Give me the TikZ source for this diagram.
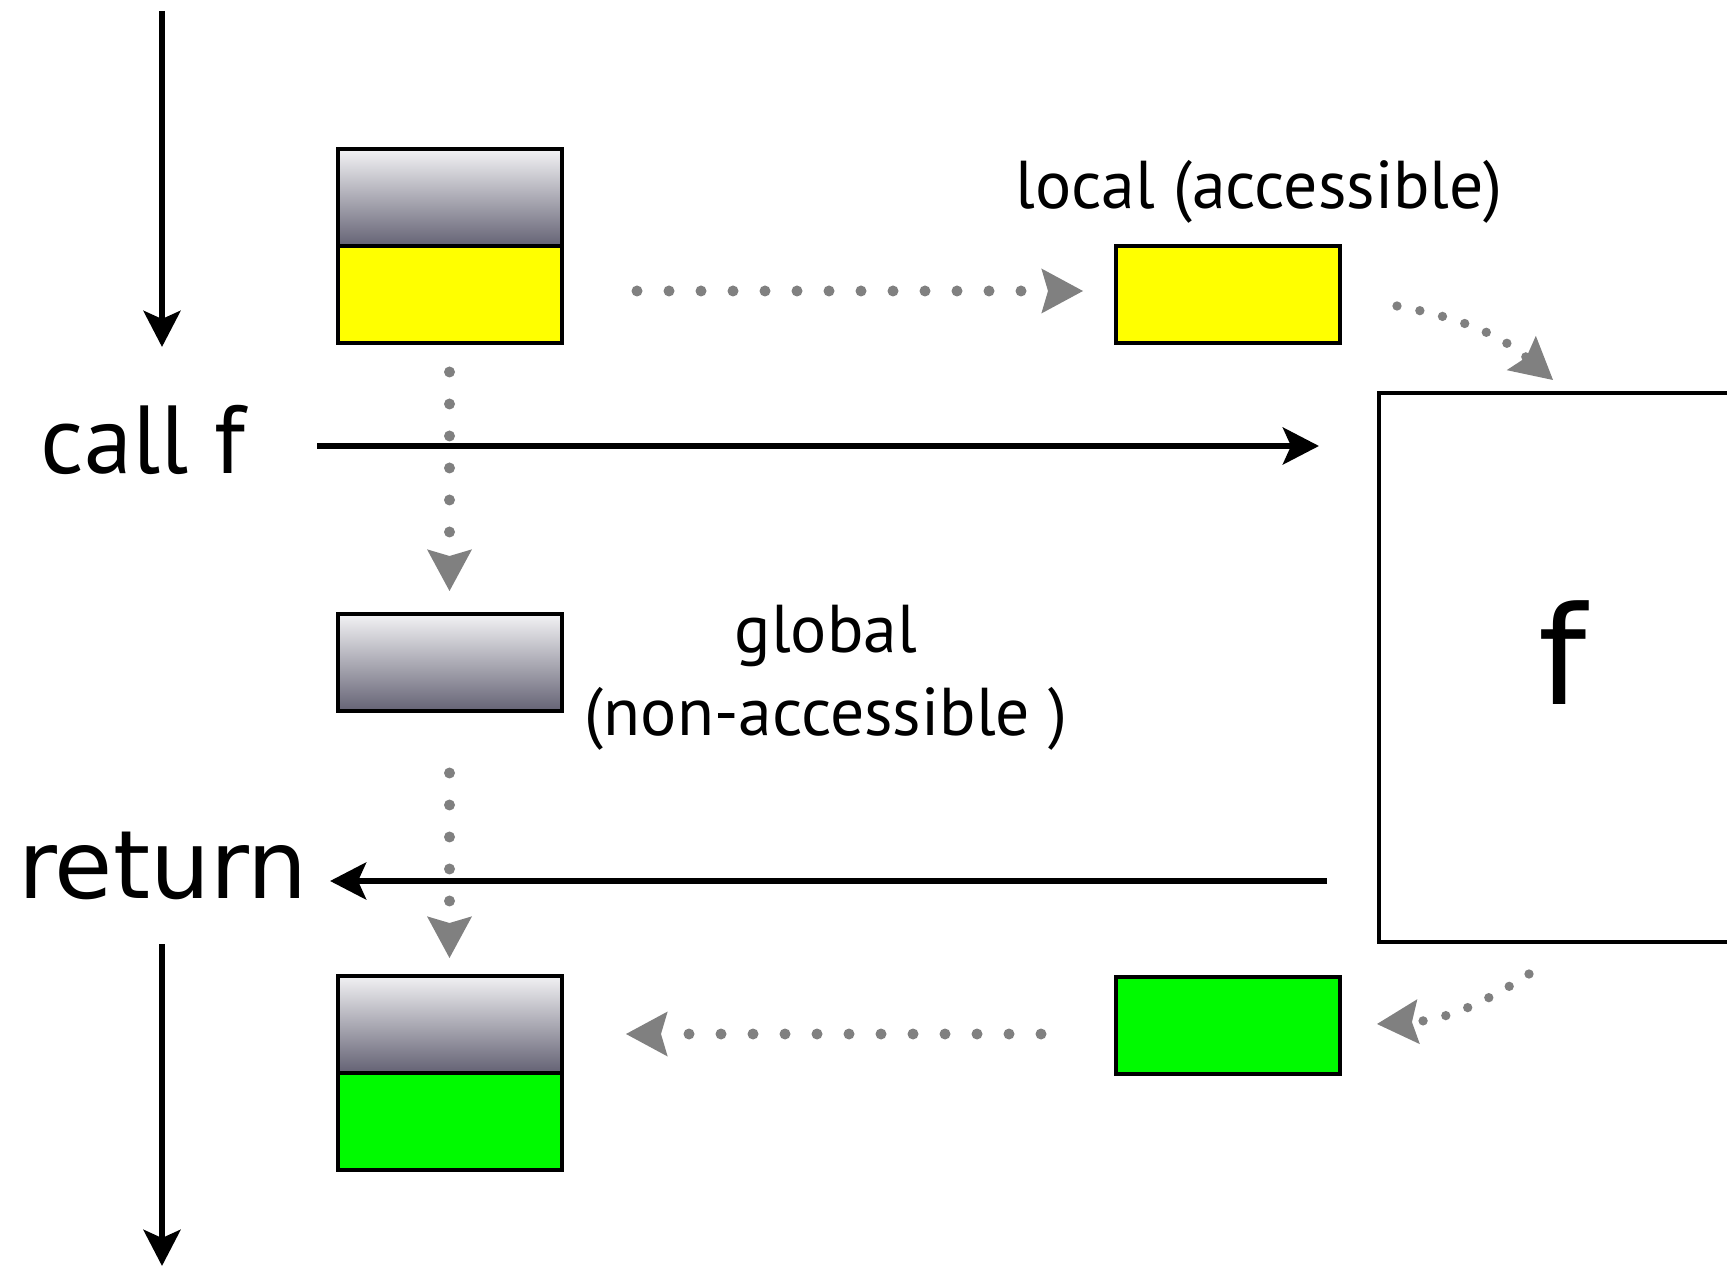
\documentclass[tikz,border=0pt]{standalone}
\usepackage{fontspec}
\setmainfont{PT Sans}
\newfontfamily\dejavu{DejaVu Sans}
\usetikzlibrary{arrows.meta,calc}
\definecolor{yel}{RGB}{255,255,0}
\definecolor{grn}{RGB}{0,250,0}
\definecolor{gtop}{RGB}{242,242,244}
\definecolor{gbot}{RGB}{100,98,116}
\definecolor{dotgray}{RGB}{128,128,128}
\begin{document}
\begin{tikzpicture}[x=0.3pt,y=-0.3pt,
  blk/.style={line width=2pt,-{Stealth[length=10.8pt,width=11pt,inset=2.4pt]}},
  dotarr/.style={draw=dotgray,line width=3.3pt,line cap=round,dash pattern=on 0pt off 9.6pt,-{Stealth[length=12.5pt,width=13.5pt,inset=2pt,fill=dotgray,line width=0pt]}},
  curvarr/.style={dotarr,line width=2.8pt,dash pattern=on 0pt off 7pt},
  cell/.style={draw=black,line width=1.2pt,minimum width=67.2pt,minimum height=29.1pt,inner sep=0pt,outer sep=0pt},
  gradcell/.style={cell,top color=gtop,bottom color=gbot},
  txt/.style={inner sep=0pt,outer sep=0pt,text=black}]
\useasboundingbox (0,0) rectangle (1727,1268);
\clip (0,0) rectangle (1727,1268);
% boxes
\node[gradcell] (tg) at (449.5,198) {};
\node[cell,fill=yel] (ty) at (449.5,295) {};
\node[gradcell] (gg) at (449.5,663) {};
\node[gradcell] (bg) at (449.5,1024) {};
\node[cell,fill=grn] (bgr) at (449.5,1121) {};
\node[cell,fill=yel] (ly) at (1228,295) {};
\node[cell,fill=grn] (lg) at (1228,1025) {};
\node[draw=black,line width=1.3pt,minimum width=114.3pt,minimum height=164.7pt,inner sep=0pt,outer sep=0pt] (fbox) at (1569.5,667.5) {};
% texts
\node[txt,anchor=base west,font=\fontsize{29}{29}\selectfont] (callf) at (41,474) {call f};
\node[txt,anchor=base west,font=\dejavu\fontsize{28.4}{28.4}\selectfont] (ret) at (18,898) {return};
\node[txt,anchor=base,font=\fontsize{20.3}{20.3}\selectfont] (loc) at (1259,209) {local (accessible)};
\node[txt,anchor=base,font=\fontsize{20.3}{20.3}\selectfont] (glob1) at (826,653) {global};
\node[txt,anchor=base,font=\fontsize{20.3}{20.3}\selectfont] (glob2) at (826,736) {(non-accessible )};
\node[txt,anchor=base,font=\dejavu\fontsize{41}{41}\selectfont] (fl) at (1563,705) {f};
% black arrows
\coordinate (a1s) at (162,11);
\coordinate (a1e) at (162,347);
\coordinate (cs) at (317,446);
\coordinate (ce) at (1319,446);
\coordinate (rs) at (1327,881);
\coordinate (re) at (330,881);
\coordinate (b1s) at (162,944);
\coordinate (b1e) at (162,1266);
\draw[blk] (a1s) -- (a1e);
\draw[blk] (cs) -- (ce);
\draw[blk] (rs) -- (re);
\draw[blk] (b1s) -- (b1e);
% dotted arrows
\draw[dotarr] ($(ty.east)+(75.5,-4)$) -- ($(ly.west)+(-33,-4)$);
\draw[dotarr] ($(ty.south)+(0,28.5)$) -- ($(gg.north)+(0,-23.5)$);
\draw[dotarr] ($(gg.south)+(0,61.5)$) -- ($(bg.north)+(0,-17.5)$);
\draw[dotarr] ($(lg.west)+(-75,9)$) -- ($(bg.east)+(64.5,10)$);
\draw[curvarr] ($(ly.east)+(57,11)$) to[bend left=15] ($(fbox.north)+(-16.5,-13)$);
\draw[curvarr] ($(fbox.south)+(-40.5,32)$) to[bend left=15] ($(lg.east)+(37,-1)$);
\end{tikzpicture}
\end{document}
